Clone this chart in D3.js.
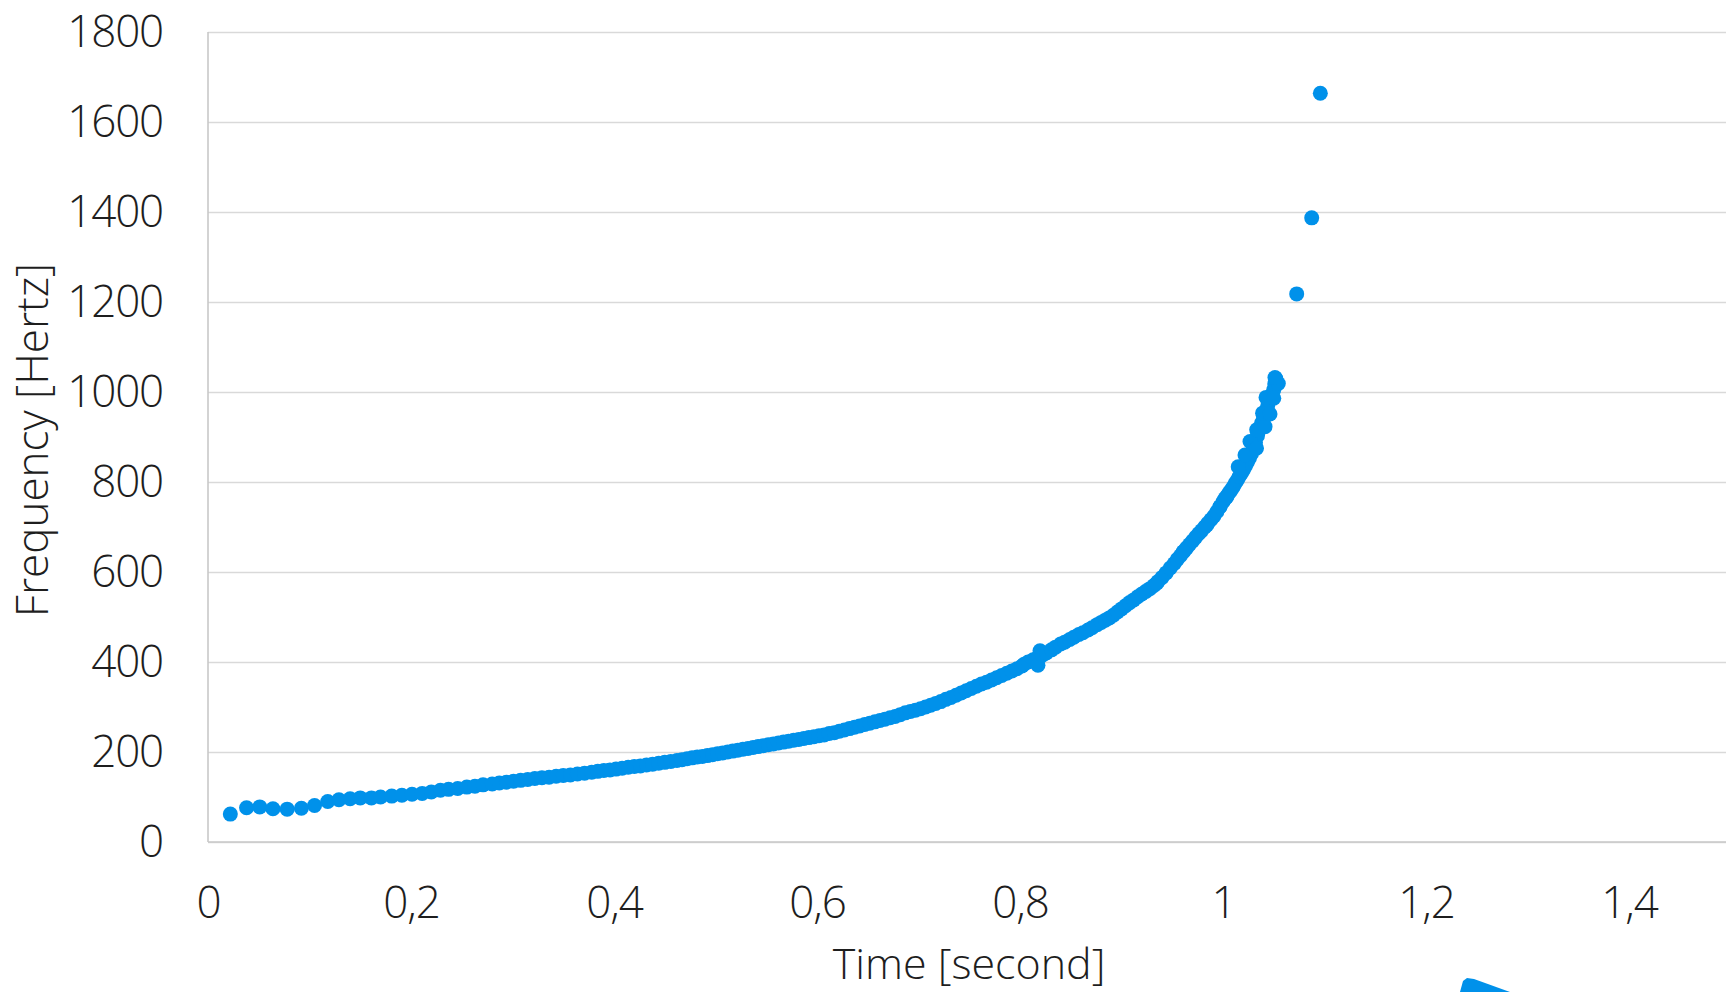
<!DOCTYPE html>
<html lang="en">
<head>
  <meta charset="UTF-8">
  <title>Frequency vs time</title>
  <script src="https://d3js.org/d3.v7.min.js"></script>
  <style>
    html, body { margin: 0; padding: 0; background: #fff; overflow: hidden; }
    text { font-family: 'Open Sans', sans-serif; font-weight: 300; fill: #1e1e1e; }
  </style>
</head>
<body>
  <div class="canvas"></div>
  <script>
    // [time in s, frequency in Hz]
    const lowBand = [
      [.022,62],[.038,76],[.051,78],[.064,74],[.078,73],[.092,75],[.105,81],[.118,90],[.129,94],
      [.140,96],[.150,98],[.161,98],[.170,100],[.181,102],[.191,104],[.201,106],[.211,108],[.220,111],
      [.229,115],[.237,117],[.246,119],[.255,122],[.263,124],[.271,127],[.280,129]
    ];
    const midBand = [
      [.287,131],[.294,133],[.301,135],[.308,137],[.315,139],[.322,141],[.329,143],[.336,144],[.343,146],
      [.350,148],[.357,149],[.364,151],[.371,153],[.378,155],[.384,157],[.390,159],[.396,160],[.402,162],
      [.408,164],[.414,166],[.420,168],[.426,169],[.432,171],[.438,173],[.444,175],[.450,177],[.456,179],
      [.462,181],[.467,183],[.472,185],[.477,187],[.482,189],[.487,190],[.492,192],[.497,194],[.502,196],
      [.507,198],[.512,200],[.517,202],[.522,204],[.527,206],[.532,208],[.537,210],[.542,212],[.547,214],
      [.552,216],[.557,218],[.562,220],[.567,222],[.572,224],[.577,226],[.582,228],[.587,230],[.592,232],
      [.597,234],[.602,236],[.607,238],[.612,241],[.617,243],[.622,246],[.627,249],[.632,252],[.637,255],
      [.642,258],[.647,261],[.652,264],[.657,267],[.662,270],[.667,273],[.672,276],[.677,279],[.682,283],
      [.687,287],[.692,290],[.697,293],[.702,296],[.707,300],[.712,304],[.717,308],[.722,312],[.727,317],
      [.732,321],[.737,326],[.742,331],[.747,336],[.752,341],[.757,346],[.762,351],[.767,355],[.772,360],
      [.777,365],[.782,370],[.787,375],[.792,380],[.797,385],[.802,391]
    ];
    const steepBand = [
      [.804,395],[.808,400],[.813,405],[.817,409],[.8177,393],[.8197,425],[.822,415],[.826,420],[.831,427],
      [.835,433],[.840,440],[.844,444],[.849,450],[.853,455],[.858,461],[.862,465],[.867,471],[.871,476],
      [.876,483],[.880,488],[.884,493],[.888,498],[.892,504],[.896,511],[.900,518],[.904,525],[.908,532],
      [.912,538],[.916,545],[.920,551],[.924,557],[.928,563],[.932,570],[.936,579],[.940,588],[.944,598],
      [.948,609],[.952,619],[.955,628],[.958,636],[.961,645],[.964,653],[.967,661],[.970,669],[.973,677],
      [.976,685],[.979,692],[.982,700],[.985,708],[.988,716],[.991,724],[.994,734],[.997,745],[1.000,756],
      [1.002,763],[1.004,769],[1.006,776],[1.008,782],[1.010,789],[1.012,797],[1.014,804],[1.016,812],
      [1.018,819],[1.020,827],[1.022,835],[1.024,844],[1.026,853],[1.028,863],[1.030,874],[1.032,888],
      [1.034,903],[1.036,917],[1.038,931],[1.040,945],[1.042,957],[1.044,969],[1.046,981],[1.048,993],
      [1.050,1005],[1.051,1018],[1.052,1030],
      [.9347,575],[.9609,645],[.9839,704],[.997,745],[1.0036,767],
      [1.015,834],[1.0217,860],[1.0266,890],[1.033,875],[1.0332,916],[1.0414,923],[1.039,953],
      [1.0463,951],[1.0424,988],[1.050,986],[1.0545,1019],[1.0512,1032]
    ];
    const outliers = [[1.0726,1218],[1.0874,1387],[1.0959,1664]];

    const xTicks = [0, 0.2, 0.4, 0.6, 0.8, 1, 1.2, 1.4];
    const xTickLabels = ['0', '0,2', '0,4', '0,6', '0,8', '1', '1,2', '1,4'];
    const yTicks = [0, 200, 400, 600, 800, 1000, 1200, 1400, 1600, 1800];
    const xTitle = 'Time [second]';
    const yTitle = 'Frequency [Hertz]';

    const W = 1726, H = 992;
    const plotLeft = 208, plotBottom = 842, plotTop = 32;
    const plotRight = 1832; // plot area continues past the picture edge

    const svg = d3.select('.canvas')
      .append('svg')
      .attr('width', W)
      .attr('height', H)
      .style('display', 'block');

    const x = d3.scaleLinear().domain([0, 1.6]).range([plotLeft, plotRight]);
    const y = d3.scaleLinear().domain([0, 1800]).range([plotBottom, plotTop]);

    // gridlines + y tick labels
    const yAxis = svg.append('g')
      .attr('transform', `translate(${plotLeft},0)`)
      .call(d3.axisLeft(y)
        .tickValues(yTicks)
        .tickSize(-(plotRight - plotLeft))
        .tickPadding(45)
        .tickFormat(d => d));
    yAxis.select('.domain').remove();
    yAxis.selectAll('.tick line')
      .attr('stroke', '#d9d9d9')
      .attr('stroke-width', 1.6);
    yAxis.selectAll('.tick text')
      .attr('font-size', 44)
      .attr('letter-spacing', '-1.2px')
      .attr('dy', '0.34em');

    // x tick labels
    const xAxis = svg.append('g')
      .attr('transform', `translate(0,${plotBottom})`)
      .call(d3.axisBottom(x)
        .tickValues(xTicks)
        .tickSize(0)
        .tickPadding(45)
        .tickFormat((d, i) => xTickLabels[i]));
    xAxis.select('.domain').remove();
    xAxis.selectAll('.tick text')
      .attr('font-size', 44)
      .attr('letter-spacing', '-1px');

    // axis lines
    svg.append('line')
      .attr('x1', x(0)).attr('x2', x(0))
      .attr('y1', y(1800)).attr('y2', y(0))
      .attr('stroke', '#c8c8c8').attr('stroke-width', 1.6);
    svg.append('line')
      .attr('x1', x(0)).attr('x2', plotRight)
      .attr('y1', y(0)).attr('y2', y(0))
      .attr('stroke', '#c8c8c8').attr('stroke-width', 1.6);

    // axis titles
    svg.append('text')
      .attr('x', 969)
      .attr('y', 979)
      .attr('text-anchor', 'middle')
      .attr('font-size', 43)
      .text(xTitle);
    svg.append('text')
      .attr('transform', 'translate(48,440) rotate(-90)')
      .attr('text-anchor', 'middle')
      .attr('font-size', 44)
      .text(yTitle);

    // points
    const allPoints = [...lowBand, ...midBand, ...steepBand, ...outliers];
    svg.append('g')
      .selectAll('circle')
      .data(allPoints)
      .enter()
      .append('circle')
      .attr('cx', d => x(d[0]))
      .attr('cy', d => y(d[1]))
      .attr('r', 7.5)
      .attr('fill', '#0091ea');

    // blue shape peeking in at the bottom edge
    svg.append('path')
      .attr('d', 'M1460,992 L1463,981 L1467,978 L1474,979 L1510,992 Z')
      .attr('fill', '#0091ea');
  </script>
</body>
</html>
